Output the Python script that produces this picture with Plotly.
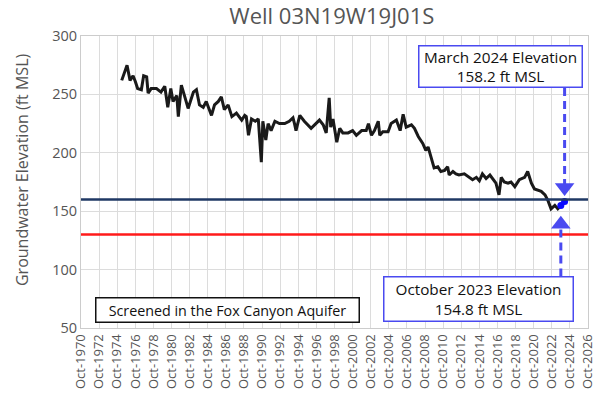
import pandas as pd
import plotly.graph_objects as go

# water level readings
dates = [
    "1975-04", "1975-11", "1976-03", "1976-07", "1976-10", "1977-01", "1977-06", "1977-09",
    "1978-01", "1978-03", "1978-07", "1979-02", "1979-08", "1980-01", "1980-05", "1980-09",
    "1980-12", "1981-05", "1981-07", "1981-11", "1982-04", "1982-08", "1983-03", "1983-07",
    "1983-11", "1984-04", "1984-08", "1985-03", "1985-07", "1985-12", "1986-04", "1986-08",
    "1987-01", "1987-06", "1987-12", "1988-07", "1988-11", "1989-01", "1989-04", "1989-08",
    "1990-01", "1990-05", "1990-09", "1990-11", "1991-03", "1991-06", "1991-10", "1992-03",
    "1992-09", "1993-04", "1993-10", "1994-03", "1994-05", "1994-07", "1994-12", "1995-06",
    "1996-03", "1996-10", "1997-02", "1997-07", "1997-11", "1998-03", "1998-05", "1998-08",
    "1999-01", "1999-05", "1999-09", "2000-04", "2000-10", "2001-03", "2001-10", "2002-04",
    "2002-07", "2002-11", "2003-03", "2003-08", "2003-10", "2004-02", "2004-09", "2005-01",
    "2005-08", "2006-01", "2006-05", "2006-09", "2007-04", "2007-08", "2008-01", "2008-07",
    "2008-11", "2009-02", "2009-06", "2009-10", "2010-03", "2010-07", "2010-12", "2011-04",
    "2011-06", "2011-11", "2012-03", "2012-07", "2013-02", "2013-09", "2014-01", "2014-06",
    "2014-10", "2015-02", "2015-07", "2015-12", "2016-04", "2016-08", "2016-12", "2017-03",
    "2017-07", "2017-12", "2018-04", "2018-09", "2019-03", "2019-10", "2020-02", "2020-07",
    "2020-11", "2021-04", "2021-08", "2022-01", "2022-05", "2022-09", "2023-02", "2023-06",
    "2023-10", "2024-03",
]
elevation = [
    262, 275, 262, 266, 261, 255, 254, 266,
    265, 251, 255, 255, 252, 257, 239, 255,
    244, 249, 231, 258, 247, 238, 252, 254,
    241, 239, 244, 232, 241, 244, 248, 237,
    241, 231, 234, 228, 232, 231, 215, 229,
    227, 229, 192, 227, 211, 225, 219, 227,
    225, 225, 227, 230, 225, 219, 232, 227,
    221, 225, 228, 224, 217, 247, 222, 229,
    209, 221, 217, 217, 219, 215, 219, 219,
    225, 215, 219, 227, 215, 218, 218, 225,
    228, 219, 233, 222, 224, 221, 214, 208,
    202, 205, 197, 187, 188, 184, 185, 188,
    181, 184, 182, 181, 182, 179, 177, 179,
    176, 182, 178, 181, 177, 174, 164, 179,
    175, 174, 175, 171, 177, 179, 184, 174,
    169, 168, 167, 164, 159, 152, 155, 152,
    154.8, 158.2,
]

threshold_upper = 160
threshold_lower = 130

df = pd.DataFrame({"date": pd.to_datetime(dates), "elev": elevation})
fall = df.iloc[-2]    # October 2023
spring = df.iloc[-1]  # March 2024

blue = "#4a4af0"
fig = go.Figure()

fig.add_trace(go.Scatter(x=df["date"], y=df["elev"], mode="lines",
                         line=dict(color="#1a1a1a", width=3), showlegend=False))

fig.add_hline(y=threshold_upper, line=dict(color="#1f3864", width=2.5))
fig.add_hline(y=threshold_lower, line=dict(color="#ff1a1a", width=2.5))

# dashed leader lines to the call-out boxes
fig.add_shape(type="line", xref="x", yref="paper", x0=spring["date"], x1=spring["date"],
              y0=0.822, y1=(spring["elev"] + 12 - 50) / 250,
              line=dict(color=blue, width=3, dash="8px,5px"))
fig.add_shape(type="line", xref="x", yref="paper", x0=fall["date"], x1=fall["date"],
              y0=0.176, y1=(fall["elev"] - 16 - 50) / 250,
              line=dict(color=blue, width=3, dash="8px,5px"))

# arrow heads
fig.add_trace(go.Scatter(x=[spring["date"]], y=[spring["elev"] + 12], mode="markers",
                         marker=dict(symbol="triangle-down", size=17, color=blue),
                         showlegend=False))
fig.add_trace(go.Scatter(x=[fall["date"]], y=[fall["elev"] - 16], mode="markers",
                         marker=dict(symbol="triangle-up", size=17, color=blue),
                         showlegend=False))

# highlighted readings
fig.add_trace(go.Scatter(x=[fall["date"], spring["date"]], y=[fall["elev"], spring["elev"]],
                         mode="markers", marker=dict(color="#0a0aff", size=7),
                         showlegend=False))

box_font = dict(family="Open Sans", size=15.3, color="#111")
fig.add_annotation(xref="paper", yref="paper", x=0.828, y=0.894,
                   xanchor="center", yanchor="middle",
                   text=f"March 2024 Elevation<br>{spring['elev']:.1f} ft MSL",
                   showarrow=False, font=box_font, bgcolor="white",
                   bordercolor=blue, borderwidth=1.5, width=160, height=38)
fig.add_annotation(xref="paper", yref="paper", x=0.785, y=0.099,
                   xanchor="center", yanchor="middle",
                   text=f"October 2023 Elevation<br>{fall['elev']:.1f} ft MSL",
                   showarrow=False, font=box_font, bgcolor="white",
                   bordercolor=blue, borderwidth=1.5, width=186, height=41)
fig.add_annotation(xref="paper", yref="paper", x=0.2886, y=0.0616,
                   xanchor="center", yanchor="middle",
                   text="Screened in the Fox Canyon Aquifer",
                   showarrow=False, font=dict(family="Open Sans", size=14.3, color="#111"),
                   bgcolor="white", bordercolor="#111", borderwidth=1.5, width=260, height=21)

# y-axis title, placed by hand (sits a little above the plot centre)
fig.add_annotation(xref="paper", yref="paper", x=-0.1164, y=0.541,
                   xanchor="center", yanchor="middle", textangle=-90,
                   text="Groundwater Elevation (ft MSL)", showarrow=False,
                   font=dict(family="Open Sans", size=16, color="#555"))

fig.update_layout(
    width=610, height=414,
    margin=dict(l=81, r=22, t=36, b=86, autoexpand=False),
    paper_bgcolor="white", plot_bgcolor="white",
    font=dict(family="Open Sans", color="#555"),
    title=dict(text="Well 03N19W19J01S", x=0.544, xanchor="center",
               y=0.961, yanchor="middle", automargin=False,
               font=dict(size=22, color="#555")),
)
fig.update_xaxes(type="date", range=["1970-10-01", "2026-10-01"], automargin=False,
                 tick0="1970-10-01", dtick="M24", tickformat="%b-%Y", tickangle=-90,
                 tickfont=dict(size=13, color="#555"),
                 showgrid=True, gridcolor="#dcdcdc", gridwidth=1,
                 showline=True, linecolor="#cccccc", mirror=True, ticks="")
fig.update_yaxes(range=[50, 300], dtick=50, automargin=False,
                 tickfont=dict(size=14.5, color="#555"),
                 showgrid=True, gridcolor="#dcdcdc", gridwidth=1, zeroline=False,
                 showline=True, linecolor="#cccccc", mirror=True, ticks="")

# drop the browser's default 8px body margin so the figure sits at the page corner
fig.write_html("out.html", config={"displayModeBar": False},
               post_script="document.body.style.margin = '0';")
